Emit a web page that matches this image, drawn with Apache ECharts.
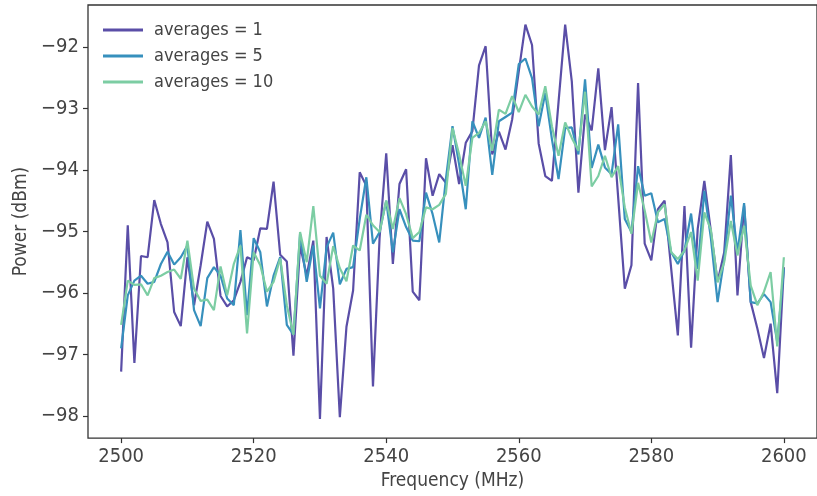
<!DOCTYPE html>
<html>
<head>
<meta charset="utf-8">
<script src="https://cdn.jsdelivr.net/npm/echarts@6/dist/echarts.min.js"></script>
<style>
  html, body { margin: 0; padding: 0; background: #fff; }
  #chart { width: 817px; height: 496px; }
</style>
</head>
<body>
<div id="chart"></div>
<script>
// Frequency sweep, 2500–2600 MHz in 1 MHz steps
const freqStart = 2500;
const freqStep = 1;
const pointCount = 101;

const seriesNames = ['averages = 1', 'averages = 5', 'averages = 10'];
const seriesColors = ['#5a4ea7', '#3790bd', '#7ccda3'];

// Measured power (dBm) per frequency point
const powerAvg1 = [
  -97.28, -94.90, -97.14, -95.40, -95.42, -94.49, -94.88, -95.18, -96.31, -96.54,
  -95.42, -96.20, -95.55, -94.84, -95.12, -96.05, -96.22, -96.12, -95.82, -95.42,
  -95.47, -94.95, -94.96, -94.19, -95.38, -95.49, -97.02, -95.23, -95.72, -95.15,
  -98.05, -95.09, -95.93, -98.02, -96.55, -95.96, -94.04, -94.26, -97.52, -95.10,
  -93.73, -95.53, -94.23, -93.99, -95.98, -96.12, -93.81, -94.42, -94.07, -94.21,
  -93.60, -94.23, -93.56, -93.37, -92.30, -91.99, -93.75, -93.38, -93.67, -93.18,
  -92.40, -91.64, -91.97, -93.57, -94.10, -94.18, -92.90, -91.64, -92.56, -94.37,
  -93.10, -93.36, -92.35, -93.68, -92.98, -94.45, -95.93, -95.55, -92.59, -95.20,
  -95.47, -94.64, -94.50, -95.61, -96.69, -94.59, -96.89, -94.96, -94.18, -95.01,
  -95.82, -95.34, -93.76, -96.04, -94.58, -96.15, -96.58, -97.06, -96.50, -97.63,
  -95.58
];
const powerAvg5 = [
  -96.90, -96.04, -95.80, -95.72, -95.85, -95.82, -95.53, -95.33, -95.54, -95.42,
  -95.23, -96.28, -96.54, -95.76, -95.58, -95.72, -96.09, -96.20, -94.98, -96.36,
  -95.11, -95.34, -96.22, -95.72, -95.42, -96.52, -96.68, -95.04, -95.82, -95.23,
  -96.25, -95.26, -95.02, -95.86, -95.61, -95.58, -94.80, -94.12, -95.20, -95.01,
  -94.50, -95.34, -94.64, -94.93, -95.15, -95.16, -94.37, -94.72, -95.18, -94.15,
  -93.29, -93.91, -94.64, -93.21, -93.48, -93.15, -94.08, -93.21, -93.14, -93.07,
  -92.28, -92.19, -92.51, -93.29, -92.75, -93.50, -94.15, -93.32, -93.31, -93.75,
  -92.53, -93.97, -93.59, -93.96, -94.07, -93.26, -94.80, -95.01, -93.94, -94.42,
  -94.38, -94.85, -94.80, -95.34, -95.53, -95.31, -94.71, -95.61, -94.34, -95.12,
  -96.15, -95.45, -94.42, -95.34, -94.54, -96.15, -96.17, -96.02, -96.15, -96.80,
  -95.61
];
const powerAvg10 = [
  -96.52, -95.80, -95.87, -95.86, -96.04, -95.76, -95.72, -95.66, -95.62, -95.77,
  -95.15, -95.93, -96.13, -96.11, -96.28, -95.57, -96.04, -95.53, -95.23, -96.66,
  -95.34, -95.55, -95.98, -95.82, -95.44, -96.20, -96.68, -95.01, -95.50, -94.59,
  -95.72, -95.85, -95.24, -95.60, -95.81, -95.23, -95.31, -94.73, -94.90, -95.01,
  -94.50, -94.96, -94.46, -94.72, -95.11, -95.01, -94.61, -94.64, -94.57, -94.39,
  -93.32, -93.75, -94.26, -93.48, -93.40, -93.21, -93.69, -93.02, -93.09, -92.80,
  -93.06, -92.78, -92.97, -93.10, -92.64, -93.29, -93.77, -93.23, -93.48, -93.69,
  -92.73, -94.27, -94.10, -93.77, -94.12, -93.94, -94.61, -95.04, -94.21, -94.66,
  -95.18, -94.69, -94.56, -95.34, -95.45, -95.31, -95.01, -95.80, -94.69, -94.98,
  -95.83, -95.50, -94.83, -95.39, -94.91, -95.88, -96.20, -95.98, -95.66, -96.87,
  -95.42
];

// Axis ticks
const xTicks = [2500, 2520, 2540, 2560, 2580, 2600];
const yTicks = [-98, -97, -96, -95, -94, -93, -92];

const frequencies = [];
for (let i = 0; i < pointCount; i++) frequencies.push(freqStart + i * freqStep);

const powerSeries = [powerAvg1, powerAvg5, powerAvg10];

const FONT = "'DejaVu Sans Condensed', 'DejaVu Sans', sans-serif";
const TEXT_COLOR = '#444444';
const AXIS_COLOR = '#333333';

function minusFmt(v) {
  return v < 0 ? '\u2212' + Math.abs(v) : String(v);
}

const chart = echarts.init(document.getElementById('chart'), null, { renderer: 'canvas' });

chart.setOption({
  animation: false,
  backgroundColor: '#ffffff',
  grid: {
    left: 88, right: -2, top: 5, bottom: 56,
    show: true, borderColor: AXIS_COLOR, borderWidth: 1.3, backgroundColor: 'transparent'
  },
  legend: {
    orient: 'vertical',
    left: 103, top: 20,
    padding: 0,
    icon: 'rect',
    itemWidth: 40, itemHeight: 3,
    itemGap: 6,
    textStyle: { fontFamily: FONT, fontSize: 18, color: TEXT_COLOR, lineHeight: 20, padding: [0, 0, 0, 6] },
    data: seriesNames
  },
  xAxis: {
    type: 'value',
    min: 2495, max: 2605,
    name: 'Frequency (MHz)',
    nameLocation: 'middle',
    nameGap: 32,
    nameTextStyle: { fontFamily: FONT, fontSize: 19, color: TEXT_COLOR },
    axisLine: { show: false },
    splitLine: { show: false },
    axisTick: { show: true, length: 5, lineStyle: { color: AXIS_COLOR, width: 1.2 }, customValues: xTicks },
    axisLabel: { fontFamily: FONT, fontSize: 20, color: TEXT_COLOR, margin: 9, customValues: xTicks, formatter: minusFmt }
  },
  yAxis: {
    type: 'value',
    min: -98.36, max: -91.32,
    name: 'Power (dBm)',
    nameLocation: 'middle',
    nameGap: 55,
    nameTextStyle: { fontFamily: FONT, fontSize: 19, color: TEXT_COLOR },
    axisLine: { show: false },
    splitLine: { show: false },
    axisTick: { show: true, length: 5, lineStyle: { color: AXIS_COLOR, width: 1.2 }, customValues: yTicks },
    axisLabel: { fontFamily: FONT, fontSize: 20, color: TEXT_COLOR, margin: 9, customValues: yTicks, formatter: minusFmt }
  },
  series: powerSeries.map((vals, s) => ({
    name: seriesNames[s],
    type: 'line',
    data: frequencies.map((f, i) => [f, vals[i]]),
    showSymbol: false,
    symbol: 'none',
    color: seriesColors[s],
    lineStyle: { width: 2.2, color: seriesColors[s] },
    z: 2 + s
  }))
});
</script>
</body>
</html>
